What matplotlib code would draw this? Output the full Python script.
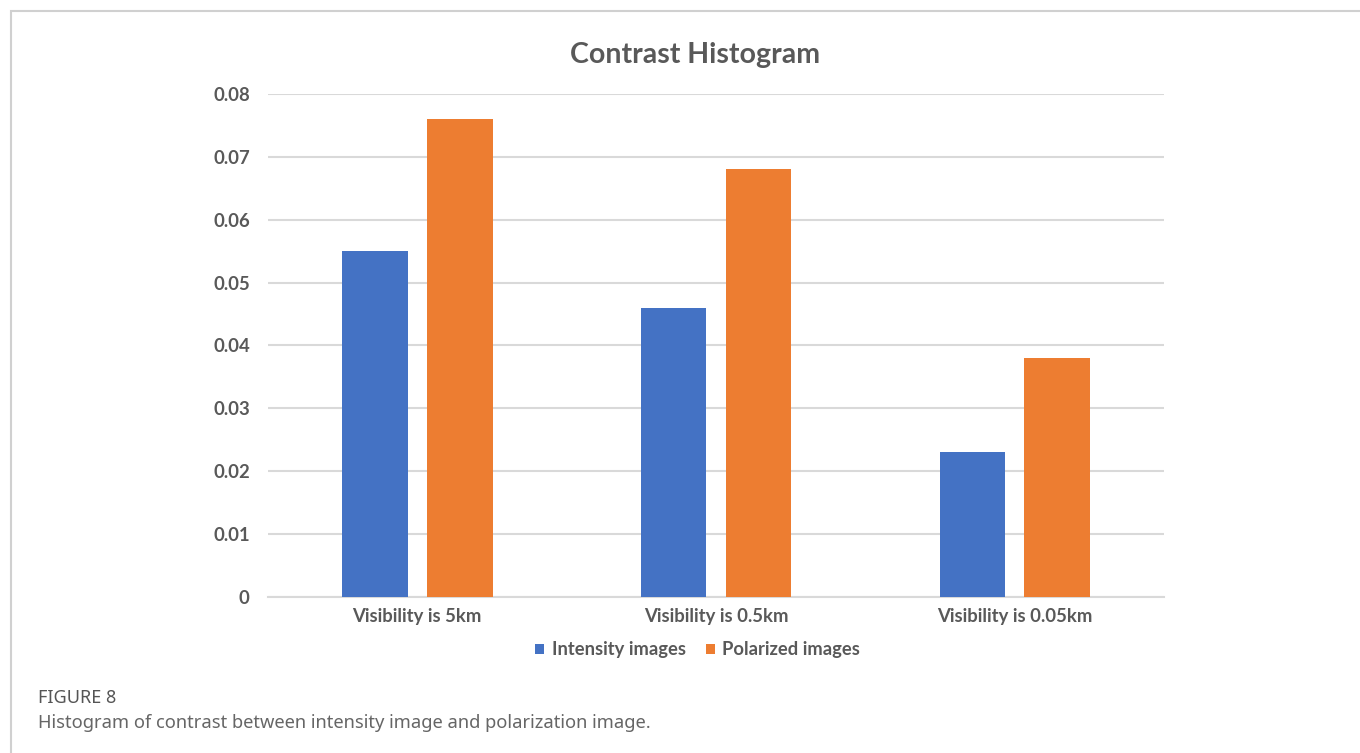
import matplotlib.pyplot as plt
import matplotlib.patches as patches
import numpy as np

categories = ['Visibility is 5km', 'Visibility is 0.5km', 'Visibility is 0.05km']
intensity = [0.055, 0.046, 0.023]
polarized = [0.076, 0.068, 0.038]
series_names = ['Intensity images', 'Polarized images']
yticks = [0, 0.01, 0.02, 0.03, 0.04, 0.05, 0.06, 0.07, 0.08]
ytick_labels = ['0', '0.01', '0.02', '0.03', '0.04', '0.05', '0.06', '0.07', '0.08']

plt.rcParams['font.family'] = ['Lato', 'DejaVu Sans']

fig = plt.figure(figsize=(13.6, 7.53), dpi=100)
ax = fig.add_axes([0.197, 0.2072, 0.659, 0.668])

x = np.arange(len(categories))
w = 0.22
off = 0.142
ax.bar(x - off, intensity, w, color='#4472c4', label=series_names[0], zorder=3)
ax.bar(x + off, polarized, w, color='#ed7d31', label=series_names[1], zorder=3)

ax.set_xlim(-0.5, 2.5)
ax.set_ylim(0, 0.08)
ax.set_yticks(yticks)
ax.set_yticklabels(ytick_labels)
ax.set_xticks(x)
ax.set_xticklabels(categories)
ax.yaxis.grid(True, color='#d9d9d9', linewidth=1.5, zorder=0)
for s in ['top', 'right', 'left']:
    ax.spines[s].set_visible(False)
ax.spines['bottom'].set_color('#d9d9d9')
ax.spines['bottom'].set_linewidth(1.5)
ax.tick_params(axis='both', length=0, labelsize=13.3, labelcolor='#595959')
ax.tick_params(axis='y', pad=13)
ax.tick_params(axis='x', pad=8)
for t in ax.get_xticklabels() + ax.get_yticklabels():
    t.set_fontweight('bold')

fig.text(0.511, 1 - 55 / 753, 'Contrast Histogram', ha='center', va='center',
         fontsize=20.5, fontweight='bold', color='#595959')

leg = fig.legend(loc='center', bbox_to_anchor=(0.513, 0.137), ncol=2, frameon=False,
                 fontsize=13.2, handlelength=0.5, handleheight=0.5, handletextpad=0.4,
                 columnspacing=1.1)
for t in leg.get_texts():
    t.set_color('#595959')
    t.set_fontweight('bold')

# outer frame of the figure panel
fig.patches.append(patches.Rectangle((11 / 1360, -0.1), 1.2, 1 - 11 / 753 + 0.1,
                                     transform=fig.transFigure, fill=False,
                                     edgecolor='#d0d0d0', linewidth=1.5))

fig.text(38 / 1360, 1 - 698 / 753, 'FIGURE 8', ha='left', va='center',
         fontsize=13, fontweight='medium', color='#555555',
         family=['Noto Sans', 'DejaVu Sans'])
fig.text(38 / 1360, 1 - 723 / 753,
         'Histogram of contrast between intensity image and polarization image.',
         ha='left', va='center', fontsize=13.2, color='#666666',
         family=['Noto Sans', 'DejaVu Sans'])

plt.savefig('out.png', dpi=100)
